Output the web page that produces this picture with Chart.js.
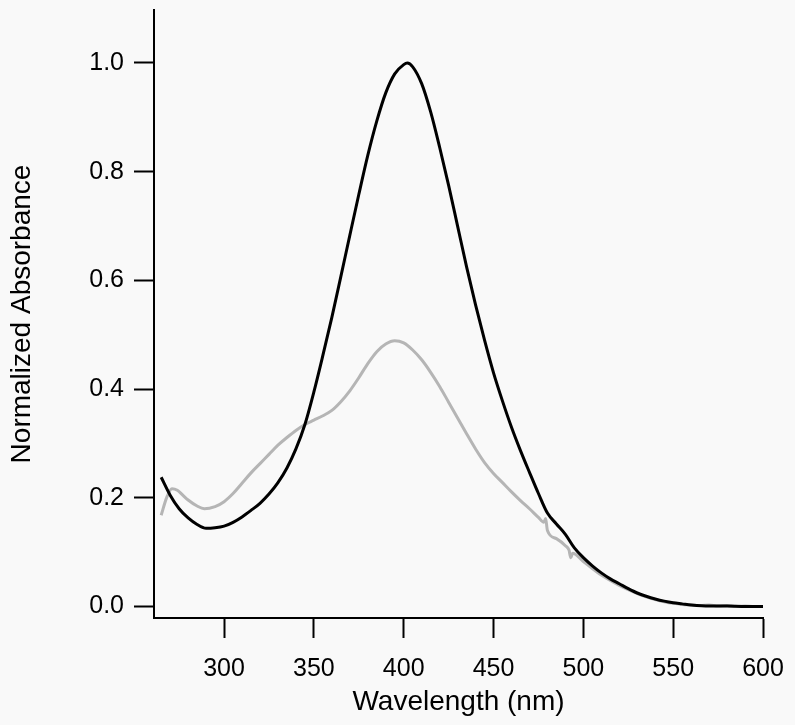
<!DOCTYPE html>
<html>
<head>
<meta charset="utf-8">
<script src="https://cdn.jsdelivr.net/npm/chart.js@4"></script>
<style>
  html, body { margin: 0; padding: 0; background: #f9f9f9; }
  #wrap { width: 795px; height: 725px; }
</style>
</head>
<body>
<div id="wrap"><canvas id="spectrum"></canvas></div>
<script>
// Black spectrum (wavelength in nm, normalized absorbance)
const blackNm = [265, 270, 275, 280, 285, 290, 295, 300, 305, 310, 315, 320, 325, 330, 335, 340, 345, 350, 355, 360,
    365, 370, 375, 380, 385, 390, 395, 400, 402, 405, 410, 415, 420, 425, 430, 435, 440, 445, 450, 455,
    460, 465, 470, 475, 480, 485, 490, 495, 500, 505, 510, 515, 520, 525, 530, 535, 540, 545, 550, 555,
    560, 570, 580, 590, 600];
const blackAbs = [0.238, 0.205, 0.18, 0.163, 0.151, 0.144, 0.145, 0.148, 0.155, 0.165, 0.177, 0.19, 0.207, 0.228, 0.255, 0.29, 0.335, 0.395, 0.462, 0.532,
    0.607, 0.683, 0.758, 0.83, 0.893, 0.945, 0.98, 0.997, 1.0, 0.993, 0.962, 0.91, 0.845, 0.775, 0.70, 0.625, 0.555, 0.49, 0.43, 0.378,
    0.33, 0.287, 0.247, 0.208, 0.172, 0.152, 0.133, 0.108, 0.09, 0.075, 0.062, 0.051, 0.042, 0.033, 0.025, 0.019, 0.014, 0.01, 0.007, 0.005,
    0.003, 0.001, 0.001, 0.0, 0.0];

// Gray spectrum
const grayNm = [265, 268, 271, 274, 277, 280, 285, 289, 295, 300, 305, 310, 315, 320, 325, 330, 335, 340, 345, 350,
    355, 360, 365, 370, 375, 380, 385, 390, 395, 400, 405, 410, 415, 420, 425, 430, 435, 440, 445,
    450, 455, 460, 465, 470, 475, 478, 479, 480, 485, 490, 492, 493, 494, 500, 505, 510, 515, 520, 525,
    530, 535, 540, 545, 550, 555, 560, 565, 570, 575, 580, 585, 590, 595, 600];
const grayAbs = [0.168, 0.2, 0.217, 0.214, 0.205, 0.196, 0.185, 0.18, 0.184, 0.193, 0.208, 0.227, 0.246, 0.263, 0.28, 0.297, 0.311, 0.324, 0.335, 0.343,
    0.351, 0.361, 0.377, 0.397, 0.421, 0.447, 0.469, 0.483, 0.489, 0.485, 0.472, 0.454, 0.431, 0.405, 0.376, 0.347, 0.318, 0.29, 0.265,
    0.245, 0.228, 0.211, 0.195, 0.18, 0.164, 0.155, 0.162, 0.14, 0.125, 0.112, 0.104, 0.09, 0.098, 0.083, 0.07, 0.058, 0.048, 0.039, 0.031,
    0.024, 0.018, 0.013, 0.009, 0.006, 0.004, 0.003, 0.002, 0.003, 0.001, 0.002, 0.0, 0.001, 0.0, 0.0];

// Tick values
const xTicks = [300, 350, 400, 450, 500, 550, 600];
const yTicks = [0, 0.2, 0.4, 0.6, 0.8, 1.0];

const toPoints = (xs, ys) => xs.map((x, i) => ({ x: x, y: ys[i] }));

const fontFamily = '"Liberation Sans", Arial, Helvetica, sans-serif';

const spectrumChart = new Chart(document.getElementById('spectrum').getContext('2d'), {
    type: 'line',
    data: {
        datasets: [{
            label: 'black',
            data: toPoints(blackNm, blackAbs),
            borderColor: '#000000',
            borderWidth: 3,
            pointRadius: 0,
            cubicInterpolationMode: 'monotone'
        }, {
            label: 'gray',
            data: toPoints(grayNm, grayAbs),
            borderColor: '#b5b5b5',
            borderWidth: 3,
            pointRadius: 0,
            cubicInterpolationMode: 'monotone'
        }]
    },
    options: {
        responsive: true,
        maintainAspectRatio: false,
        animation: false,
        layout: { padding: { top: 10, right: 32, left: 0, bottom: 0 } },
        plugins: { legend: { display: false }, tooltip: { enabled: false } },
        scales: {
            x: {
                type: 'linear',
                min: 261,
                max: 600,
                afterBuildTicks: (scale) => { scale.ticks = xTicks.map(v => ({ value: v })); },
                afterFit: (scale) => {
                    scale.height = 107;
                    scale.paddingLeft = 0;
                    scale.paddingRight = 0;
                },
                border: { display: true, color: '#000', width: 2 },
                grid: { drawOnChartArea: false, drawTicks: true, tickLength: 20, tickWidth: 2, tickColor: '#000', color: '#000' },
                ticks: { color: '#000', padding: 16, maxRotation: 0, font: { family: fontFamily, size: 25 } },
                title: {
                    display: true,
                    text: 'Wavelength (nm)',
                    color: '#000',
                    font: { family: fontFamily, size: 28 },
                    padding: { top: 0, bottom: 6 }
                }
            },
            y: {
                min: -0.021,
                max: 1.0975,
                afterBuildTicks: (scale) => { scale.ticks = yTicks.map(v => ({ value: v })); },
                afterFit: (scale) => {
                    scale.width = 154;
                    scale.paddingTop = 0;
                    scale.paddingBottom = 0;
                },
                border: { display: true, color: '#000', width: 2 },
                grid: { drawOnChartArea: false, drawTicks: true, tickLength: 20, tickWidth: 2, tickColor: '#000', color: '#000' },
                ticks: {
                    color: '#000',
                    padding: 10,
                    font: { family: fontFamily, size: 25 },
                    callback: (v) => v.toFixed(1)
                },
                title: {
                    display: true,
                    text: 'Normalized Absorbance',
                    color: '#000',
                    font: { family: fontFamily, size: 28 },
                    padding: { top: 5, bottom: 0 }
                }
            }
        }
    }
});
</script>
</body>
</html>
